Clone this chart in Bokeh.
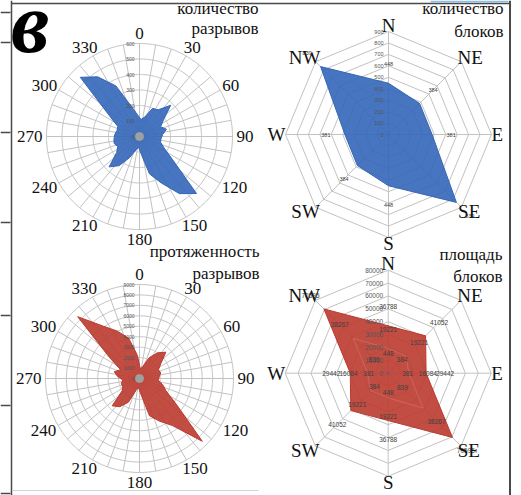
import numpy as np
from bokeh.plotting import figure
from bokeh.models import Range1d
from bokeh.embed import file_html
from bokeh.resources import INLINE
from bokeh.core.properties import value

# ---------------- data ----------------
rose_bins = [5, 15, 25, 35, 45, 55, 65, 75, 85, 95, 105, 115, 125, 135, 145, 155, 165, 175,
             185, 195, 205, 215, 225, 235, 245, 255, 265, 275, 285, 295, 305, 315, 325, 335, 345, 355]
faults_count = [110, 130, 200, 210, 285, 190, 150, 180, 150, 140, 140, 175, 260, 520, 450, 330, 250, 110,
                70, 90, 150, 230, 277, 180, 155, 170, 165, 160, 150, 155, 240, 540, 470, 360, 200, 140]
faults_length = [900, 1200, 2200, 3000, 3560, 2500, 2000, 2100, 1900, 1800, 2300, 2800, 4300, 8500, 5500, 4500, 3700, 1500,
                 900, 1100, 2500, 3300, 3700, 2000, 1800, 1800, 1600, 2100, 2500, 2000, 3500, 8370, 6140, 5000, 4000, 2200]
rose_ticks_count = [0, 100, 200, 300, 400, 500, 600]
rose_ticks_length = [0, 1000, 2000, 3000, 4000, 5000, 6000, 7000, 8000, 9000]
rose_spokes = [0, 10, 20, 30, 40, 50, 60, 70, 80, 90, 100, 110, 120, 130, 140, 150, 160, 170,
               180, 190, 200, 210, 220, 230, 240, 250, 260, 270, 280, 290, 300, 310, 320, 330, 340, 350]
rose_labels = ["0", "30", "60", "90", "120", "150", "180", "210", "240", "270", "300", "330"]
rose_label_angles = [0, 30, 60, 90, 120, 150, 180, 210, 240, 270, 300, 330]

compass = ["N", "NE", "E", "SE", "S", "SW", "W", "NW"]
compass_angles = [0, 45, 90, 135, 180, 225, 270, 315]
blocks_count = [448, 384, 381, 839, 448, 384, 381, 839]
blocks_area = [36788, 41052, 29442, 70595, 36788, 41052, 29442, 70595]
blocks_area_mean = [19221, 19221, 16084, 38267, 19221, 19221, 16084, 38267]
ticks_blocks_count = [0, 100, 200, 300, 400, 500, 600, 700, 800, 900]
ticks_blocks_area = [0, 10000, 20000, 30000, 40000, 50000, 60000, 70000, 80000]

BLUE = "#3466b8"
RED = "#bb3a2f"
GRID = "#c2c2c2"
FRAME = "#4a4a4a"
SERIF = value("Liberation Serif")
SANS = value("Liberation Sans")
CW = {"N": 0.72, "E": 0.61, "S": 0.56, "W": 0.94}
W, H = 521, 495
BASE_SHIFT = 0.3  # em, compensation for the alphabetic baseline placement

# one canvas, page-pixel ranges for the sheet decorations
p = figure(width=W, height=H, x_range=Range1d(0, W), y_range=Range1d(H, 0),
           output_backend="svg", toolbar_location=None, min_border=0,
           x_axis_location=None, y_axis_location=None,
           background_fill_color="white", border_fill_color="white")
p.grid.visible = False
p.outline_line_color = None


def tw(s, fs):
    return sum(CW.get(c, 0.5) for c in s) * fs


class Chart:
    """A polar chart with its own data ranges placed on the shared canvas."""

    def __init__(self, name, cx, cy, R_px, vmax):
        self.upp = vmax / R_px
        u = self.upp
        p.extra_x_ranges[name] = Range1d((0 - cx) * u, (W - cx) * u)
        p.extra_y_ranges[name] = Range1d((cy - H) * u, (cy - 0) * u)
        self.kw = dict(x_range_name=name, y_range_name=name)

    def outer_labels(self, labels, angles, fs, gap, rmax):
        u = self.upp
        xs, ys = [], []
        for s, a in zip(labels, angles):
            th = np.radians(a)
            w = tw(s, fs)
            h = 0.66 * fs
            r = rmax + gap * u
            xs.append(r * np.sin(th) + np.sin(th) * w / 2 * u)
            ys.append(r * np.cos(th) + np.cos(th) * h / 2 * u)
        p.text(xs, ys, text=labels, text_font=SERIF, text_font_size=f"{fs}px",
               text_align="center", text_baseline="middle", text_color="#111111", **self.kw)

    def tick_labels(self, ticks, fs):
        xs = [-5 * self.upp] * len(ticks)
        p.text(xs, ticks, text=[str(t) for t in ticks], text_font=SANS,
               text_font_size=f"{fs}px", text_align="right", text_baseline="middle",
               text_color="#555555", **self.kw)


def rose(ch, values, ticks, color):
    rmax = ticks[-1]
    t = np.linspace(0, 2 * np.pi, 361)
    for r in ticks[1:]:
        p.line(r * np.sin(t), r * np.cos(t), line_color=GRID, line_width=1, **ch.kw)
    sp = np.radians(rose_spokes)
    p.segment(np.zeros(len(sp)), np.zeros(len(sp)), rmax * np.sin(sp), rmax * np.cos(sp),
              line_color=GRID, line_width=1, **ch.kw)
    th = np.radians(rose_bins)
    v = np.array(values, dtype=float)
    p.patch(v * np.sin(th), v * np.cos(th), fill_color=color, fill_alpha=0.9,
            line_color=color, line_width=1, **ch.kw)
    p.scatter([0], [0], size=8, color="#a0a0a0", **ch.kw)
    ch.tick_labels(ticks, 5)
    ch.outer_labels(rose_labels, rose_label_angles, 17, 4, rmax)


def radar(ch, series, colors, ticks, label_fs):
    rmax = ticks[-1]
    th = np.radians(compass_angles)
    thc = np.append(th, th[0])
    for r in ticks[1:]:
        p.line(r * np.sin(thc), r * np.cos(thc), line_color=GRID, line_width=1, **ch.kw)
    p.segment(np.zeros(8), np.zeros(8), rmax * np.sin(th), rmax * np.cos(th),
              line_color=GRID, line_width=1, **ch.kw)
    for i, (vals, col) in enumerate(zip(series, colors)):
        v = np.array(vals, dtype=float)
        if i == 0 or col == BLUE:
            p.patch(v * np.sin(th), v * np.cos(th), fill_color=col, fill_alpha=0.9,
                    line_color=col, line_width=1, **ch.kw)
        else:
            p.patch(v * np.sin(th), v * np.cos(th), fill_color=None,
                    line_color="#e0a098", line_alpha=0.3, line_width=1, **ch.kw)
    ch.tick_labels(ticks, label_fs)
    u = ch.upp
    for vals in series:
        v = np.array(vals, dtype=float)
        r = v + 19 * u
        p.text(r * np.sin(th), r * np.cos(th), text=[str(x) for x in vals], text_font=SANS,
               text_font_size=f"{label_fs}px", text_align="center", text_baseline="middle",
               text_color="#404040", **ch.kw)
    ch.outer_labels(compass, compass_angles, 19, 0, rmax)


def title(lines, right_x, baselines, fs=17):
    for t, b in zip(lines, baselines):
        p.text([right_x], [b - BASE_SHIFT * fs], text=[t], text_font=SERIF,
               text_font_size=f"{fs}px", text_align="right", text_baseline="alphabetic",
               text_color="#111111")


def seg(x0, y0, x1, y1, color=FRAME, width=1.5):
    p.segment([x0], [y0], [x1], [y1], line_color=color, line_width=width)


# ---------- frame of the scanned sheet (page pixels) ----------
seg(11, 3, 509, 3, width=1.5)
seg(11, 0, 11, H, width=1.5)
for ty in (12, 42, 132, 222, 315, 405, 493):
    seg(0, ty, 10, ty, width=1.3)
seg(12, 490, 258, 490, color="#d2d2d2", width=1)
seg(509.5, 0, 509.5, H, width=2)
seg(430, 1, 508, 1, color="#8fbde0", width=2)

# ---------- charts ----------
tl = Chart("tl", 139, 136, 93, rose_ticks_count[-1])
rose(tl, faults_count, rose_ticks_count, BLUE)

tr = Chart("tr", 388, 134, 103, ticks_blocks_count[-1])
radar(tr, [blocks_count], [BLUE], ticks_blocks_count, 5.5)

bl = Chart("bl", 139, 378, 94, rose_ticks_length[-1])
rose(bl, faults_length, rose_ticks_length, RED)

br = Chart("br", 387.7, 372.7, 103, ticks_blocks_area[-1])
radar(br, [blocks_area, blocks_area_mean, blocks_count], [RED, RED, BLUE], ticks_blocks_area, 6.5)

# ---------- titles ----------
title(["количество", "разрывов"], 258, [13.5, 33])
title(["количество", "блоков"], 503, [13.5, 36.5])
title(["протяженность", "разрывов"], 259, [256, 278])
title(["площадь", "блоков"], 502, [259.5, 281.5])
p.text([10.5], [48 - BASE_SHIFT * 86], text=["в"], text_font=SERIF, text_font_size="86px",
       text_font_style="bold italic", text_align="left", text_baseline="alphabetic",
       text_color="#000000")

open("out.html", "w").write(file_html(p, INLINE))
